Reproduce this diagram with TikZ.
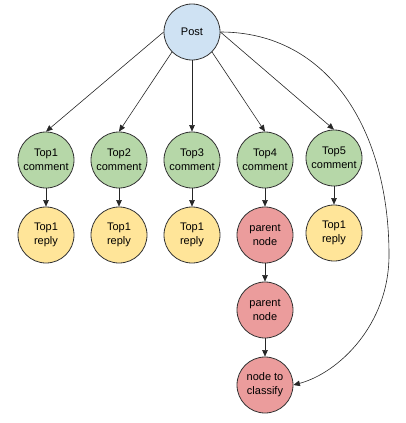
\documentclass[tikz,border=0pt]{standalone}
\usepackage{fontspec}
\setmainfont{Liberation Sans}
\usetikzlibrary{arrows.meta}
\definecolor{cblue}{HTML}{CFE2F3}
\definecolor{cgreen}{HTML}{B6D7A8}
\definecolor{cyellow}{HTML}{FFE599}
\definecolor{cred}{HTML}{E06666}
\definecolor{cline}{HTML}{333333}
\tikzset{
  bub/.style={circle, draw=cline, line width=0.8pt, minimum size=56pt, inner sep=0pt,
    align=center, font=\fontsize{11pt}{14pt}\selectfont},
  postb/.style={bub, fill=cblue},
  comb/.style={bub, fill=cgreen},
  repb/.style={bub, fill=cyellow},
  parb/.style={bub, fill=cred!65!white},
  arr/.style={draw=black!85, line width=0.6pt, -{Triangle[length=6.5pt,width=5.5pt]}},
}
\begin{document}
\begin{tikzpicture}[x=1pt,y=-1pt]
\useasboundingbox (0,0) rectangle (406,423);
\node[postb] (post) at (192,32) {Post};
\node[comb] (c1) at (46,160) {Top1\\comment};
\node[comb] (c2) at (119,160) {Top2\\comment};
\node[comb] (c3) at (192,160) {Top3\\comment};
\node[comb] (c4) at (265,160) {Top4\\comment};
\node[comb] (c5) at (334,158) {Top5\\comment};
\node[repb] (r1) at (46,235) {Top1\\reply};
\node[repb] (r2) at (119,235) {Top1\\reply};
\node[repb] (r3) at (192,235) {Top1\\reply};
\node[parb] (p1) at (265,235) {parent\\node};
\node[repb] (r5) at (334,233) {Top1\\reply};
\node[parb] (p2) at (265,310) {parent\\node};
\node[parb] (nc) at (265,385) {node to\\classify};
\coordinate (bend) at (389,255);
\draw[arr] (post.west) -- (c1.north);
\draw[arr] (post.south west) -- (c2.north);
\draw[arr] (post.south) -- (c3.north);
\draw[arr] (post.south east) -- (c4.north);
\draw[arr] (post.east) -- (c5.north);
\draw[arr] (c1.south) -- (r1.north);
\draw[arr] (c2.south) -- (r2.north);
\draw[arr] (c3.south) -- (r3.north);
\draw[arr] (c4.south) -- (p1.north);
\draw[arr] (c5.south) -- (r5.north);
\draw[arr] (p1.south) -- (p2.north);
\draw[arr] (p2.south) -- (nc.north);
\draw[arr] (post.east) .. controls +(108,0) and +(0,-125) .. (bend)
   .. controls +(0,70) and +(45,-12) .. (nc.east);
\end{tikzpicture}
\end{document}
